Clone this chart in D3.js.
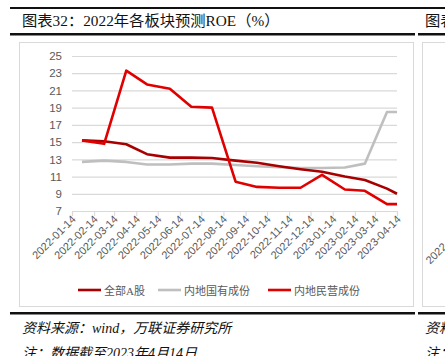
<!DOCTYPE html>
<html><head><meta charset="utf-8">
<script src="https://cdn.jsdelivr.net/npm/d3@7"></script>
<style>
html,body{margin:0;padding:0;background:#fff;}
svg{display:block;}
</style></head>
<body>
<script>
// ---- data ----
const dates = ["2022-01-28","2022-02-28","2022-03-31","2022-04-29","2022-05-31","2022-06-30","2022-07-29","2022-08-31","2022-09-30","2022-10-31","2022-11-30","2022-12-30","2023-01-31","2023-02-28","2023-03-31","2023-04-14"];
const allA   = [15.2,15.1,14.75,13.6,13.2,13.2,13.15,12.85,12.6,12.2,11.85,11.55,11.0,10.6,9.6,9.0];
const soe    = [12.7,12.85,12.7,12.4,12.4,12.5,12.5,12.35,12.2,12.1,12.0,12.0,12.05,12.5,18.5,18.5];
const priv   = [15.2,14.8,23.3,21.7,21.2,19.1,19.0,10.4,9.8,9.7,9.7,11.2,9.5,9.35,7.8,7.8];
const tickDates = ["2022-01-14","2022-02-14","2022-03-14","2022-04-14","2022-05-14","2022-06-14","2022-07-14","2022-08-14","2022-09-14","2022-10-14","2022-11-14","2022-12-14","2023-01-14","2023-02-14","2023-03-14","2023-04-14"];
const yTicks = [7,9,11,13,15,17,19,21,23,25];
const seriesNames = ["全部A股","内地国有成份","内地民营成份"];
const title = "图表32：2022年各板块预测ROE（%）";
const source = "资料来源：wind，万联证券研究所";
const note = "注：数据截至2023年4月14日";

const W = 445, H = 356;
const parse = d3.utcParse("%Y-%m-%d");
const svg = d3.select("body").append("svg").attr("width", W).attr("height", H);

const latin = "'Liberation Sans','Noto Sans CJK SC',sans-serif";
const serif = "'Liberation Serif','Noto Sans CJK SC',serif";

// header lines
svg.append("rect").attr("x",10).attr("y",7).attr("width",435).attr("height",2).attr("fill","#111");
svg.append("rect").attr("x",10).attr("y",33).attr("width",405).attr("height",2.5).attr("fill","#111");
svg.append("rect").attr("x",418).attr("y",33).attr("width",30).attr("height",2.5).attr("fill","#111");
svg.append("text").attr("x",22).attr("y",26).attr("font-family",serif).attr("font-size",15.3).attr("fill","#111").text(title);
svg.append("text").attr("x",425).attr("y",26).attr("font-family",serif).attr("font-size",15.3).attr("fill","#111").text("图表33：");

// chart frame
svg.append("rect").attr("x",19.5).attr("y",42.5).attr("width",394).attr("height",264).attr("fill","none").attr("stroke","#D9D9D9");
svg.append("rect").attr("x",422.5).attr("y",42.5).attr("width",60).attr("height",264).attr("fill","none").attr("stroke","#D9D9D9");

// scales
const x = d3.scaleUtc().domain([parse(tickDates[0]), parse(tickDates[tickDates.length-1])]).range([72,397]);
const y = d3.scaleLinear().domain([7,25]).range([211,56]);

// gridlines
const yAxis = d3.axisLeft(y).tickValues(yTicks).tickSize(-(397-72)).tickPadding(10).tickFormat(d3.format("d"));
const gy = svg.append("g").attr("transform","translate(72,0)").call(yAxis);
gy.select(".domain").remove();
gy.selectAll(".tick line").attr("stroke","#D9D9D9").attr("stroke-width",1.2);
gy.selectAll(".tick text").attr("font-family",latin).attr("font-size",11.5).attr("fill","#595959");

// x axis
const xAxis = d3.axisBottom(x).tickValues(tickDates.map(parse)).tickSize(5).tickFormat(d3.utcFormat("%Y-%m-%d"));
const gx = svg.append("g").attr("transform","translate(0,211)").call(xAxis);
gx.select(".domain").attr("stroke","#D9D9D9").attr("stroke-width",1.2);
gx.selectAll(".tick line").attr("stroke","#D9D9D9");
gx.selectAll(".tick text").attr("font-family",latin).attr("font-size",11).attr("fill","#595959")
  .attr("text-anchor","end").attr("dy",0).attr("y",0)
  .attr("transform","translate(4,9) rotate(-45)");

// lines
const pts = vals => vals.map((v,i)=>[parse(dates[i]), v]);
const line = d3.line().x(d=>x(d[0])).y(d=>y(d[1]));
const colors = ["#A80000","#BFBFBF","#E00000"];
const data = [allA, soe, priv];
[1,0,2].forEach(k=>{
  svg.append("path").datum(pts(data[k])).attr("d",line).attr("fill","none")
    .attr("stroke",colors[k]).attr("stroke-width",2.6).attr("stroke-linejoin","round");
});

// legend
const legX = [78,158,268];
seriesNames.forEach((n,i)=>{
  svg.append("line").attr("x1",legX[i]).attr("x2",legX[i]+23).attr("y1",290).attr("y2",290)
    .attr("stroke",colors[i]).attr("stroke-width",2.6);
  svg.append("text").attr("x",legX[i]+26).attr("y",294.5).attr("font-family",serif)
    .attr("font-size",11).attr("fill","#595959").text(n);
});

// footer
svg.append("rect").attr("x",10).attr("y",312).attr("width",405).attr("height",2.5).attr("fill","#111");
svg.append("rect").attr("x",418).attr("y",312).attr("width",30).attr("height",2.5).attr("fill","#111");
svg.append("text").attr("x",22).attr("y",333).attr("font-family",serif).attr("font-style","italic").attr("font-size",14).attr("fill","#111").text(source);
svg.append("text").attr("x",22).attr("y",358).attr("font-family",serif).attr("font-style","italic").attr("font-size",14).attr("fill","#111").text(note);
svg.append("text").attr("x",425).attr("y",333).attr("font-family",serif).attr("font-style","italic").attr("font-size",14).attr("fill","#111").text("资料来源");
svg.append("text").attr("x",425).attr("y",358).attr("font-family",serif).attr("font-style","italic").attr("font-size",14).attr("fill","#111").text("注：");
svg.append("text").attr("font-family",latin).attr("font-size",11).attr("fill","#595959").attr("text-anchor","end")
  .attr("transform","translate(470,225) rotate(-45)").text("2022-01-14");
</script>
</body></html>
